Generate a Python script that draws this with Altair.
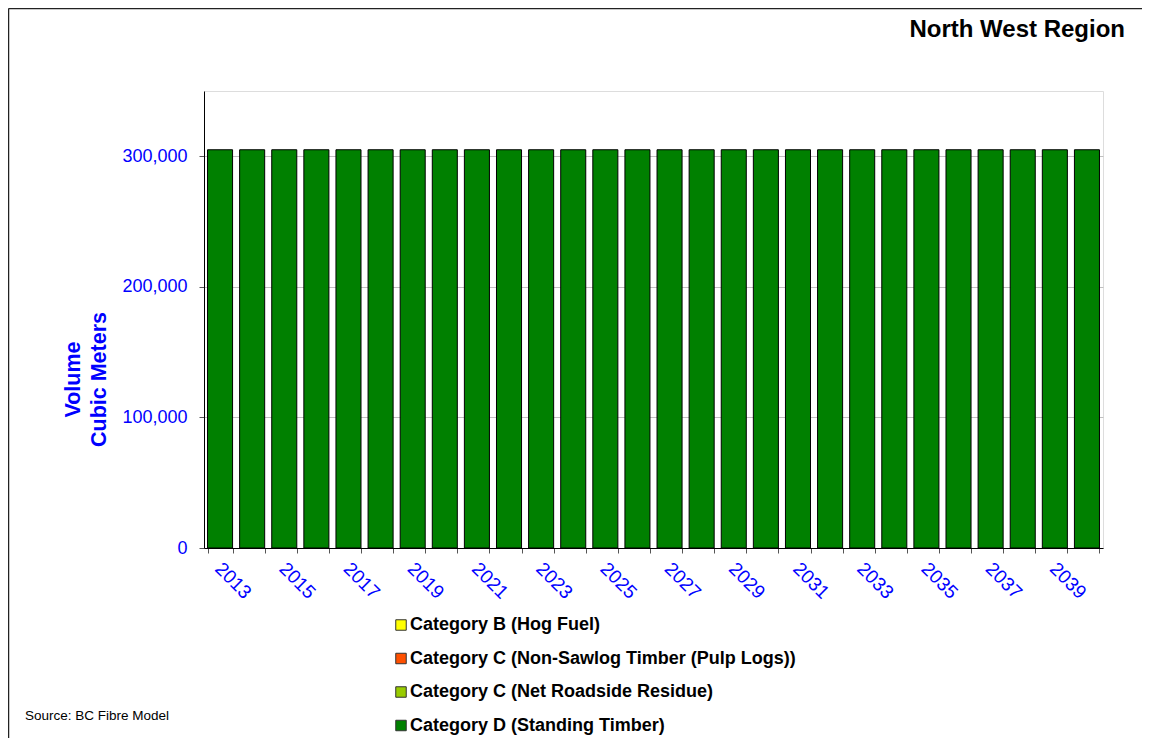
import altair as alt
import pandas as pd

years = [str(y) for y in range(2013, 2041)]
categories = [
    "Category B (Hog Fuel)",
    "Category C (Non-Sawlog Timber (Pulp Logs))",
    "Category C (Net Roadside Residue)",
    "Category D (Standing Timber)",
]
colors = ["#FFFF00", "#FF5000", "#99CC00", "#008000"]
hog_fuel = [0] * 28
pulp_logs = [0] * 28
roadside_residue = [0] * 28
standing_timber = [305000, 305000, 305000, 305000, 305000, 305000, 305000,
                   305000, 305000, 305000, 305000, 305000, 305000, 305000,
                   305000, 305000, 305000, 305000, 305000, 305000, 305000,
                   305000, 305000, 305000, 305000, 305000, 305000, 305000]
y_ticks = [0, 100000, 200000, 300000]
chart_title = "North West Region"
source_note = "Source: BC Fibre Model"

rows = []
for cat, vals in zip(categories, [hog_fuel, pulp_logs, roadside_residue, standing_timber]):
    for yr, v in zip(years, vals):
        rows.append({"year": yr, "category": cat, "volume": v})
df = pd.DataFrame(rows)

FONT = "Liberation Sans"
BLUE = "#0000FF"
W, H = 899, 457

bars = alt.Chart(df).transform_filter("datum.volume > 0").mark_bar(
    stroke="black", strokeWidth=1
).encode(
    x=alt.X("year:O", sort=years,
            scale=alt.Scale(paddingInner=0.22, paddingOuter=0.11),
            axis=alt.Axis(title=None, tickBand="extent", labelAngle=45,
                          labelAlign="left", labelBaseline="top",
                          labelExpr="toNumber(datum.value) % 2 == 1 ? datum.label : ''",
                          labelOverlap=False, labelColor=BLUE, labelFont=FONT,
                          labelFontSize=19, labelPadding=6, labelOffset=4, tickSize=5,
                          tickColor="#555", domainColor="black", grid=False)),
    y=alt.Y("volume:Q", stack="zero",
            scale=alt.Scale(domain=[0, 350000], nice=False),
            axis=alt.Axis(values=y_ticks, format=",d", title=["Volume", "Cubic Meters"],
                          titleColor=BLUE, titleFont=FONT, titleFontSize=21.5,
                          titleFontWeight="bold", titleAngle=-90, titleAlign="center",
                          titleBaseline="middle", titleX=-131, titleY=288,
                          titleLineHeight=26,
                          labelColor=BLUE, labelFont=FONT, labelFontSize=18,
                          labelPadding=12, tickSize=5, tickColor="#555",
                          domainColor="black", grid=True, gridColor="#C0C0C0")),
    color=alt.Color("category:N",
                    scale=alt.Scale(domain=categories, range=colors),
                    legend=alt.Legend(title=None, orient="none", legendX=188, legendY=525,
                                      direction="vertical", symbolType="square",
                                      symbolSize=110, symbolStrokeColor="#333",
                                      symbolStrokeWidth=1, labelFont=FONT,
                                      labelFontSize=18, labelFontWeight="bold",
                                      labelColor="black", rowPadding=15.5,
                                      labelOffset=0, labelLimit=0, padding=0)),
)

ann = pd.DataFrame({"title": [chart_title], "source": [source_note]})

title_mark = alt.Chart(ann).mark_text(
    font=FONT, fontSize=24, fontWeight="bold", color="black",
    align="right", baseline="alphabetic"
).encode(text="title:N", x=alt.value(921), y=alt.value(-54))

source_mark = alt.Chart(ann).mark_text(
    font=FONT, fontSize=13.5, color="black", align="left", baseline="alphabetic"
).encode(text="source:N", x=alt.value(-179), y=alt.value(629))

frame_left = alt.Chart(ann).mark_rule(color="#222", strokeWidth=1.5).encode(
    x=alt.value(-195.5), y=alt.value(-82.5), y2=alt.value(700)
)
frame_top = alt.Chart(ann).mark_rule(color="#222", strokeWidth=1.5).encode(
    x=alt.value(-195.5), x2=alt.value(1000), y=alt.value(-82.5)
)

chart = alt.layer(bars, title_mark, source_mark, frame_left, frame_top).properties(
    width=W, height=H,
    padding={"left": 196, "top": 83, "right": 39, "bottom": 190},
    autosize=alt.AutoSizeParams(type="none"),
).configure_view(stroke="#222", strokeWidth=1).configure(background="white")

chart.save("out.html", embed_options={"renderer": "svg", "actions": False})
